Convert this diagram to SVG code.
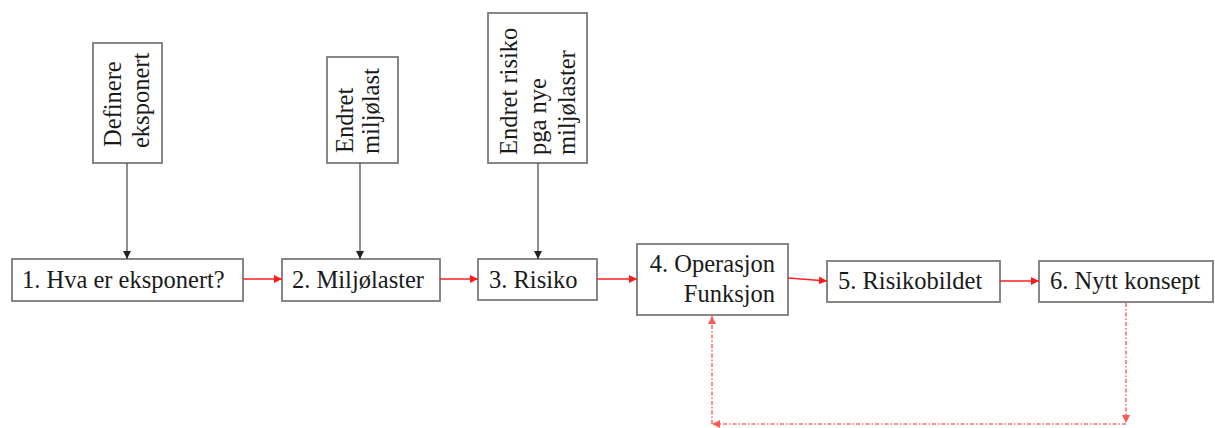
<svg xmlns="http://www.w3.org/2000/svg" width="1215" height="428" viewBox="0 0 1215 428">
  <style>
    .box { fill: #ffffff; stroke: #7a7a7a; stroke-width: 1.8; }
    .lbl { font-size: 24.5px; fill: #1a1a1a; }
    .feed { stroke: #444444; stroke-width: 1.2; fill: none; }
    .flow { stroke: #ff2020; stroke-width: 1.3; fill: none; }
    .loop { stroke: #ff4a4a; stroke-width: 1.6; fill: none; stroke-dasharray: 4 2 1.5 2; opacity: 0.8; }
  </style>
  <defs>
    <marker id="headBlack" viewBox="0 0 10 10" refX="10" refY="5" markerWidth="9" markerHeight="8" markerUnits="userSpaceOnUse" orient="auto">
      <path d="M0,0 L10,5 L0,10 z" fill="#222222"/>
    </marker>
    <marker id="headRed" viewBox="0 0 10 10" refX="10" refY="5" markerWidth="9" markerHeight="8" markerUnits="userSpaceOnUse" orient="auto">
      <path d="M0,0 L10,5 L0,10 z" fill="#ff1a1a"/>
    </marker>
    <marker id="headLoop" viewBox="0 0 10 10" refX="10" refY="5" markerWidth="8" markerHeight="8" markerUnits="userSpaceOnUse" orient="auto">
      <path d="M0,0 L10,5 L0,10 z" fill="#ff3030"/>
    </marker>
  </defs>

  <g font-family="Liberation Serif, DejaVu Serif, serif">
    <!-- input boxes (vertical text) -->
    <g id="in-definere">
      <rect class="box" x="93" y="43" width="69" height="120"/>
      <text class="lbl" transform="translate(121,147) rotate(-90)">Definere</text>
      <text class="lbl" transform="translate(149,148) rotate(-90)">eksponert</text>
    </g>
    <g id="in-endret-miljolast">
      <rect class="box" x="327" y="57" width="71" height="106"/>
      <text class="lbl" transform="translate(353,153) rotate(-90)">Endret</text>
      <text class="lbl" transform="translate(379,154) rotate(-90)">miljølast</text>
    </g>
    <g id="in-endret-risiko">
      <rect class="box" x="488" y="13" width="99" height="150"/>
      <text class="lbl" transform="translate(517,155) rotate(-90)">Endret risiko</text>
      <text class="lbl" transform="translate(546,155) rotate(-90)">pga nye</text>
      <text class="lbl" transform="translate(575,155) rotate(-90)">miljølaster</text>
    </g>

    <!-- process steps -->
    <g id="step1">
      <rect class="box" x="12" y="259" width="231" height="42"/>
      <text class="lbl" x="22" y="288">1. Hva er eksponert?</text>
    </g>
    <g id="step2">
      <rect class="box" x="282" y="259" width="158" height="42"/>
      <text class="lbl" x="292" y="288">2. Miljølaster</text>
    </g>
    <g id="step3">
      <rect class="box" x="478" y="259" width="119" height="41"/>
      <text class="lbl" x="489" y="288">3. Risiko</text>
    </g>
    <g id="step4">
      <rect class="box" x="637" y="244" width="151" height="71"/>
      <text class="lbl" x="775" y="272" text-anchor="end">4. Operasjon</text>
      <text class="lbl" x="775" y="302" text-anchor="end">Funksjon</text>
    </g>
    <g id="step5">
      <rect class="box" x="827" y="261" width="173" height="41"/>
      <text class="lbl" x="838" y="289">5. Risikobildet</text>
    </g>
    <g id="step6">
      <rect class="box" x="1039" y="261" width="174" height="41"/>
      <text class="lbl" x="1050" y="289">6. Nytt konsept</text>
    </g>
  </g>

  <!-- connectors -->
  <g id="connectors">
    <line class="feed" x1="127" y1="163" x2="127" y2="259" marker-end="url(#headBlack)"/>
    <line class="feed" x1="360" y1="163" x2="360" y2="259" marker-end="url(#headBlack)"/>
    <line class="feed" x1="538" y1="163" x2="538" y2="259" marker-end="url(#headBlack)"/>

    <line class="flow" x1="243" y1="279" x2="282" y2="279" marker-end="url(#headRed)"/>
    <line class="flow" x1="440" y1="279" x2="478" y2="279" marker-end="url(#headRed)"/>
    <line class="flow" x1="597" y1="279" x2="637" y2="279" marker-end="url(#headRed)"/>
    <line class="flow" x1="788" y1="278" x2="827" y2="281" marker-end="url(#headRed)"/>
    <line class="flow" x1="1000" y1="281" x2="1039" y2="281" marker-end="url(#headRed)"/>

    <!-- feedback loop from step 6 back to step 4 -->
    <line class="loop" x1="1126" y1="303" x2="1126" y2="423" marker-end="url(#headLoop)"/>
    <line class="loop" x1="1126" y1="424" x2="712" y2="424" marker-end="url(#headLoop)"/>
    <line class="loop" x1="712" y1="424" x2="712" y2="316" marker-end="url(#headLoop)"/>
  </g>
</svg>
